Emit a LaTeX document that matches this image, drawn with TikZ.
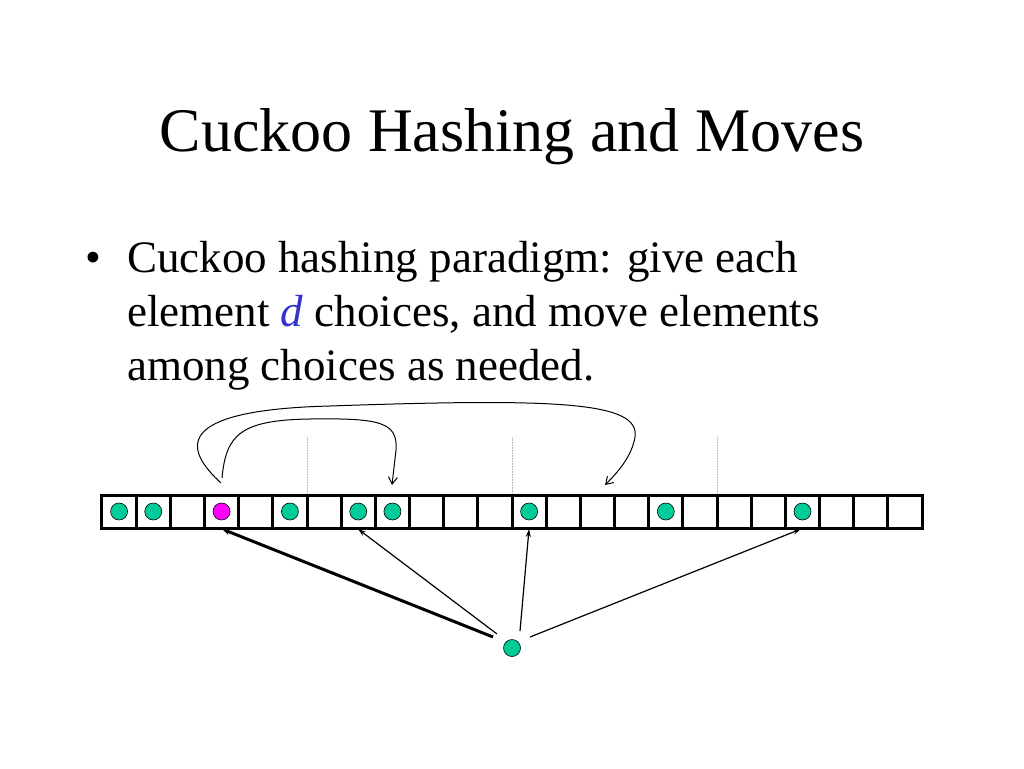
\documentclass[tikz,border=0pt]{standalone}
\usepackage{fontspec}
\setmainfont{Liberation Serif}
\usetikzlibrary{arrows.meta}
\definecolor{teal}{RGB}{0,204,153}
\definecolor{mag}{RGB}{255,0,255}
\definecolor{dblue}{RGB}{51,51,204}
\begin{document}
\begin{tikzpicture}[x=1pt,y=-1pt,
  cell/.style={draw,line width=3pt,minimum width=34.17pt,minimum height=33pt,inner sep=0pt,outer sep=0pt},
  ball/.style={circle,draw,line width=0.6pt,fill=teal,minimum size=17pt,inner sep=0pt},
  barb/.style={-{Straight Barb[length=7pt,width=9pt]},line width=1pt},
  txt/.style={anchor=base west,inner sep=0pt,font=\fontsize{45}{50}\selectfont}]
\useasboundingbox (0,0) rectangle (1024,768);
\node[inner sep=0pt,font=\fontsize{62}{66}\selectfont] (title) at (512,137) {Cuckoo Hashing and Moves};
\node[txt] (b) at (85,272) {•};
\node[txt] (l1) at (127,272) {Cuckoo hashing paradigm: give each};
\node[txt] (l2) at (127,326) {element \textcolor{dblue}{\textit{d}} choices, and move elements};
\node[txt] (l3) at (127,380) {among choices as needed.};
\foreach \i in {0,...,23} \node[cell] (c\i) at ({119.08+34.17*\i},511.5) {};
\foreach \i in {0,1,5,7,8,12,16,20} \node[ball] (k\i) at (c\i) {};
\node[ball,fill=mag] (k3) at (c3) {};
\foreach \x/\n in {307/a,512/b,717/c}{
  \coordinate (t\n) at (\x,437); \coordinate (u\n) at (\x,494);
  \draw[gray!60,densely dotted,line width=0.6pt] (t\n) -- (u\n);}
\node[ball] (src) at (512,648) {};
\coordinate (s1) at (493,637); \coordinate (s2) at (497,634);
\coordinate (s3) at (520,631); \coordinate (s4) at (530,637);
\coordinate (e1) at (222,529); \coordinate (e2) at (358,529);
\coordinate (e3) at (529,529); \coordinate (e4) at (801,529);
\draw[-{Stealth[length=8pt,width=6pt]},line width=3pt] (s1) -- (e1);
\foreach \i in {2,3,4} \draw[-{Stealth[length=8pt,width=5pt]},line width=1.2pt] (s\i) -- (e\i);
\coordinate (m1) at (222,478); \coordinate (m2) at (221,483);
\coordinate (d1) at (392,485); \coordinate (d2) at (605,485);
\draw[barb] (m1) .. controls (226,435) and (240,420) .. (310,419)
  .. controls (380,418) and (398,422) .. (396,450) -- (392,485);
\draw[barb] (m2) .. controls (185,450) and (170,410) .. (330,406)
  .. controls (560,398) and (640,402) .. (635,437) .. controls (632,455) and (620,470) .. (605,485);
\end{tikzpicture}
\end{document}
